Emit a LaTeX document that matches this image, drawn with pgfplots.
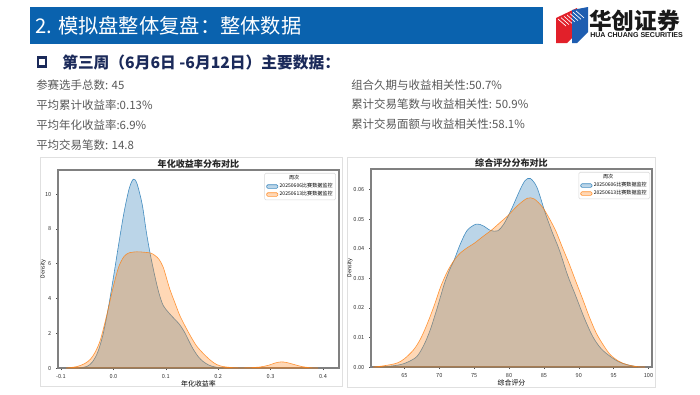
\documentclass[border=0pt]{standalone}
\usepackage{pgfplots}
\pgfplotsset{compat=1.18}
\usepackage{fontspec}
\setmainfont{Noto Sans CJK SC}
\newfontfamily\latb{Liberation Sans}
\definecolor{c1}{HTML}{1F77B4}
\definecolor{c2}{HTML}{FF7F0E}
\definecolor{barblue}{HTML}{0A62AE}
\definecolor{navy}{HTML}{1B2A5A}
\definecolor{txtgray}{HTML}{595959}
\definecolor{logored}{HTML}{E2202A}
\definecolor{logoblue}{HTML}{1E5DB0}
\pgfplotsset{
  kde/.style={
    scale only axis, width=210.75pt, height=148.5pt,
    axis line style={black!50, line width=0.9pt},
    tick pos=left, tick align=outside, major tick length=1.5pt,
    tick style={black!70, line width=0.4pt},
    ticklabel style={font=\fontsize{4.2}{4.2}\selectfont, text=black!80},
    /pgf/number format/assume math mode=true,
    scaled ticks=false,
    title style={font=\fontsize{6.8}{7}\selectfont\bfseries, text=black!85, at={(0.5,1)}, anchor=center, yshift=-1.5pt, inner sep=0pt},
    xlabel style={font=\fontsize{5.2}{5.5}\selectfont, at={(axis description cs:0.5,-0.08)}, anchor=center},
    ylabel style={font=\fontsize{4}{4}\selectfont, at={(axis description cs:-0.053,0.5)}, anchor=center},
    ylabel={Density},
    legend style={font=\fontsize{3.8}{4.2}\selectfont, draw=black!15, rounded corners=1pt,
      inner xsep=1.2pt, inner ysep=1.2pt, row sep=0.4pt,
      nodes={anchor=west, inner xsep=1.1pt, inner ysep=1.1pt, text height=2.7pt, text depth=0.7pt}},
  },
  s1/.style={fill=c1, fill opacity=0.3, draw=c1, draw opacity=0.8, line width=0.45pt, smooth,
    legend image code/.code={\draw[##1] (0pt,-1.4pt) rectangle (8.5pt,1.4pt);}},
  s2/.style={fill=c2, fill opacity=0.3, draw=c2, draw opacity=0.8, line width=0.45pt, smooth,
    legend image code/.code={\draw[##1] (0pt,-1.4pt) rectangle (8.5pt,1.4pt);}},
}
\begin{document}
\begin{tikzpicture}
\begin{scope}[x=0.75pt,y=-0.75pt]
\useasboundingbox (0,0) rectangle (700,394);
\fill[white] (0,0) rectangle (700,394);
% header bar
\fill[barblue] (30,7) rectangle (543,44);
\node[anchor=west, text=white, font=\fontsize{15.2}{16}\selectfont, inner sep=0] at (35,26) {2. 模拟盘整体复盘：整体数据};
% logo
\fill[logored] (556,18) -- (577,8) -- (577,33) -- (567,43) -- (556,43) -- cycle;
\fill[logoblue] (572,10) -- (588,7) -- (588,32) -- (577,43) -- (572,43) -- cycle;
\foreach \d in {0,3,...,18} {
  \draw[white, line width=0.5pt] (558+\d,19-\d*0.45) -- (566+\d,26-\d*0.45);
}
\node[anchor=west, font=\fontsize{17}{17}\selectfont\bfseries, text=black!90, inner sep=0] at (589,21) {华创证券};
\node[anchor=west, font=\latb\fontsize{5.3}{5.3}\selectfont\bfseries, text=black!90, inner sep=0] at (590,35.5) {HUA CHUANG SECURITIES};
% heading
\draw[navy, line width=1.6pt] (38,57.5) rectangle (46,66.5);
\node[anchor=west, font=\fontsize{11.8}{12}\selectfont\bfseries, text=navy, inner sep=0] at (62,62) {第三周（6月6日 -6月12日）主要数据：};
% stats
\begin{scope}[every node/.style={anchor=west, font=\fontsize{8.6}{9}\selectfont, text=txtgray, inner sep=0}]
\node at (36,85) {参赛选手总数: 45};
\node at (36,105) {平均累计收益率:0.13\%};
\node at (36,125) {平均年化收益率:6.9\%};
\node at (36,145) {平均交易笔数: 14.8};
\node at (351,85) {组合久期与收益相关性:50.7\%};
\node at (351,104) {累计交易笔数与收益相关性: 50.9\%};
\node at (351,124) {累计交易面额与收益相关性:58.1\%};
\end{scope}
% panels
\draw[black!12, fill=white, line width=0.5pt] (40,157) rectangle (342,386);
\draw[black!12, fill=white, line width=0.5pt] (347,157) rectangle (655,387);
\end{scope}

\begin{axis}[kde, at={(43.5pt,-276pt)}, anchor=south west,
  title={年化收益率分布对比}, xlabel={年化收益率},
  xmin=-0.1057, xmax=0.4305, ymin=0, ymax=11.38,
  xtick={-0.1,0,0.1,0.2,0.3,0.4}, ytick={0,2,4,6,8,10},
  xticklabel style={/pgf/number format/fixed, /pgf/number format/fixed zerofill, /pgf/number format/precision=1},
  legend style={at={(0.989,0.985)}, anchor=north east},
]
\addlegendimage{empty legend}
\addlegendentry{\hspace*{7pt}周次}
\addplot[s1] coordinates {
(-0.065,0) (-0.05,0.1) (-0.04,0.35) (-0.03,0.9) (-0.02,1.9) (-0.01,3.4) (0,5.2) (0.01,7.1) (0.02,8.9) (0.03,10.3) (0.038,10.85) (0.045,10.6) (0.055,9.4) (0.063,7.8) (0.07,6.6) (0.079,5.3) (0.087,4.3) (0.095,3.6) (0.105,3.2) (0.114,2.9) (0.125,2.55) (0.135,2.1) (0.145,1.5) (0.152,1.1) (0.162,0.65) (0.171,0.38) (0.182,0.17) (0.194,0.06) (0.21,0)
} \closedcycle;
\addlegendentry{20250606比赛数据监控}
\addplot[s2] coordinates {
(-0.09,0) (-0.07,0.08) (-0.055,0.25) (-0.044,0.5) (-0.035,0.9) (-0.025,1.6) (-0.013,3.0) (0,4.7) (0.01,5.8) (0.02,6.4) (0.03,6.62) (0.045,6.68) (0.06,6.65) (0.072,6.6) (0.08,6.45) (0.087,6.25) (0.095,5.8) (0.102,5.1) (0.108,4.5) (0.118,3.7) (0.127,3.0) (0.137,2.4) (0.146,1.9) (0.158,1.3) (0.171,0.85) (0.185,0.45) (0.197,0.2) (0.21,0.08) (0.225,0.03) (0.24,0.01) (0.26,0.02) (0.28,0.06) (0.295,0.15) (0.31,0.3) (0.32,0.35) (0.33,0.32) (0.345,0.2) (0.36,0.08) (0.375,0.02) (0.39,0)
} \closedcycle;
\addlegendentry{20250613比赛数据监控}
\end{axis}

\begin{axis}[kde, at={(278.25pt,-275.25pt)}, anchor=south west,
  title={综合评分分布对比}, xlabel={综合评分},
  xmin=60.2, xmax=100.5, ymin=0, ymax=0.0669,
  xtick={65,70,75,80,85,90,95,100}, ytick={0,0.01,0.02,0.03,0.04,0.05,0.06},
  yticklabel style={/pgf/number format/fixed, /pgf/number format/fixed zerofill, /pgf/number format/precision=2},
  ylabel style={at={(axis description cs:-0.075,0.5)}},
  legend style={at={(0.993,0.985)}, anchor=north east},
]
\addlegendimage{empty legend}
\addlegendentry{\hspace*{7pt}周次}
\addplot[s1] coordinates {
(61.5,0) (63,0.0003) (64.4,0.0008) (65.5,0.0017) (66.8,0.0036) (67.8,0.0075) (68.7,0.0126) (69.7,0.02) (70.7,0.028) (71.5,0.033) (72.1,0.036) (73,0.0415) (74,0.0462) (75.3,0.0483) (76.3,0.0477) (77.3,0.0462) (78.35,0.046) (79.3,0.0485) (80.4,0.0536) (81.5,0.0595) (82.3,0.063) (83.05,0.0637) (84,0.0607) (85.2,0.052) (86.2,0.0455) (87.2,0.0396) (88.4,0.031) (89.6,0.0238) (90.8,0.0165) (92,0.0103) (93.2,0.0062) (94.5,0.0036) (95.7,0.0018) (96.9,0.0008) (98.5,0)
} \closedcycle;
\addlegendentry{20250606比赛数据监控}
\addplot[s2] coordinates {
(60.5,0) (62,0.0004) (63.9,0.0013) (65,0.0028) (66.3,0.0058) (67.3,0.0095) (68.3,0.0148) (69.3,0.021) (70.2,0.0272) (71.2,0.0325) (72.1,0.036) (73,0.0385) (74,0.0403) (75,0.0418) (76.2,0.044) (77.5,0.0463) (78.7,0.0488) (79.9,0.0513) (81.2,0.0545) (82.6,0.057) (83.6,0.0568) (84.8,0.054) (85.7,0.0505) (86.7,0.046) (87.6,0.0407) (88.6,0.035) (89.6,0.0288) (90.6,0.0227) (91.5,0.017) (92.5,0.0115) (93.5,0.0075) (94.5,0.0042) (95.7,0.002) (96.9,0.0008) (98.5,0.0001) (99.5,0)
} \closedcycle;
\addlegendentry{20250613比赛数据监控}
\end{axis}
\end{tikzpicture}
\end{document}
